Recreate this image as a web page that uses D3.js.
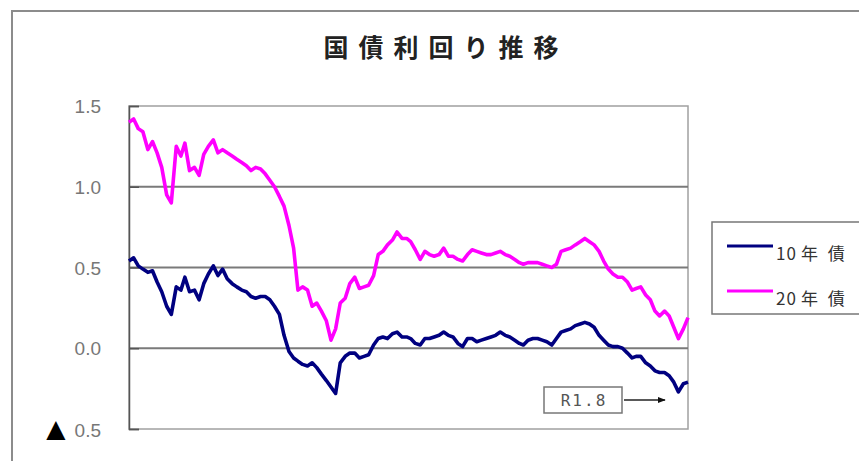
<!DOCTYPE html>
<html><head><meta charset="utf-8">
<script src="https://cdn.jsdelivr.net/npm/d3@7"></script>
<style>
html,body{margin:0;padding:0;background:#fff;}
svg{display:block;}
</style></head>
<body>
<svg id="c" width="859" height="461"></svg>
<script>
// ---- data ----
const title = "国債利回り推移";
const seriesNames = ["10年債", "20年債"];
const yTicks = [-0.5, 0.0, 0.5, 1.0, 1.5];
const yTickLabels = ["▲ 0.5", "0.0", "0.5", "1.0", "1.5"];
const annotation = "R1.8";
// semi-monthly observations, Sep 2014 - Aug 2019
const startMonth = "2014-09";
const yield10 = [0.54,0.56,0.51,0.49,0.47,0.48,0.41,0.35,0.26,0.21,
  0.38,0.36,0.44,0.35,0.36,0.30,0.40,0.46,0.51,0.45,
  0.49,0.43,0.40,0.38,0.36,0.35,0.32,0.31,0.32,0.32,
  0.30,0.26,0.21,0.08,-0.02,-0.06,-0.08,-0.10,-0.11,-0.09,
  -0.12,-0.16,-0.20,-0.24,-0.28,-0.09,-0.05,-0.03,-0.03,-0.06,
  -0.05,-0.04,0.02,0.06,0.07,0.06,0.09,0.10,0.07,0.07,
  0.06,0.03,0.02,0.06,0.06,0.07,0.08,0.10,0.08,0.07,
  0.03,0.01,0.06,0.06,0.04,0.05,0.06,0.07,0.08,0.10,
  0.08,0.07,0.05,0.03,0.02,0.05,0.06,0.06,0.05,0.04,
  0.02,0.06,0.10,0.11,0.12,0.14,0.15,0.16,0.15,0.13,
  0.08,0.05,0.02,0.01,0.01,0.00,-0.03,-0.06,-0.05,-0.05,
  -0.09,-0.11,-0.14,-0.15,-0.15,-0.17,-0.21,-0.27,-0.22,-0.21];
const yield20 = [1.40,1.42,1.36,1.34,1.23,1.28,1.21,1.12,0.95,0.90,
  1.25,1.19,1.27,1.10,1.12,1.07,1.20,1.25,1.29,1.21,
  1.23,1.21,1.19,1.17,1.15,1.13,1.10,1.12,1.11,1.08,
  1.04,1.00,0.94,0.88,0.76,0.62,0.36,0.38,0.36,0.26,
  0.28,0.23,0.17,0.05,0.12,0.28,0.31,0.40,0.44,0.37,
  0.38,0.39,0.45,0.58,0.60,0.64,0.67,0.72,0.68,0.68,
  0.66,0.61,0.55,0.60,0.58,0.57,0.58,0.62,0.57,0.57,
  0.55,0.54,0.58,0.61,0.60,0.59,0.58,0.58,0.59,0.60,
  0.58,0.57,0.55,0.53,0.52,0.53,0.53,0.53,0.52,0.51,
  0.50,0.52,0.60,0.61,0.62,0.64,0.66,0.68,0.66,0.64,
  0.60,0.54,0.49,0.46,0.44,0.44,0.41,0.36,0.37,0.38,
  0.33,0.30,0.23,0.20,0.23,0.20,0.13,0.06,0.12,0.19];
const colors = ["#000080", "#ff00ff"];

// ---- build dates ----
const [sy, sm] = startMonth.split("-").map(Number);
const dates = yield10.map((_, i) => new Date(sy, sm - 1 + Math.floor(i / 2), i % 2 ? 16 : 1));

const svg = d3.select("#c");
const plot = {x0: 129, x1: 688, y0: 106, y1: 429};

const x = d3.scaleTime().domain(d3.extent(dates)).range([plot.x0, plot.x1]);
const y = d3.scaleLinear().domain([-0.5, 1.5]).range([plot.y1, plot.y0]);

// outer frame
svg.append("path").attr("d", "M12,470 L12,11 L870,11")
  .attr("fill", "none").attr("stroke", "#8c8c8c").attr("stroke-width", 2);

// title
svg.append("text").attr("x", 446).attr("y", 57).attr("text-anchor", "middle")
  .attr("font-family", "'Noto Sans CJK JP', sans-serif").attr("font-weight", "bold")
  .attr("font-size", 25).attr("letter-spacing", 10).attr("fill", "#222").text(title);

// plot border (top/right/bottom)
svg.append("rect").attr("x", plot.x0).attr("y", plot.y0)
  .attr("width", plot.x1 - plot.x0).attr("height", plot.y1 - plot.y0)
  .attr("fill", "none").attr("stroke", "#a0a0a0").attr("stroke-width", 1.5);

// gridlines
svg.append("g").selectAll("line").data(yTicks.filter(v => v > -0.5 && v < 1.5)).join("line")
  .attr("x1", plot.x0).attr("x2", plot.x1)
  .attr("y1", d => y(d)).attr("y2", d => y(d))
  .attr("stroke", "#7a7a7a").attr("stroke-width", 2);

// y axis
const yAxis = d3.axisLeft(y).tickValues(yTicks).tickSize(-10).tickPadding(28)
  .tickFormat((d, i) => yTickLabels[i]);
const ga = svg.append("g").attr("transform", `translate(${plot.x0},0)`).call(yAxis);
ga.select(".domain").attr("stroke", "#555").attr("stroke-width", 1.5);
ga.selectAll(".tick line").attr("stroke", "#555").attr("stroke-width", 1.5);
ga.selectAll(".tick text").attr("font-family", "'Liberation Sans', Arial, sans-serif")
  .attr("font-size", 19).attr("fill", "#777").attr("dy", "0.35em");
ga.selectAll(".tick text").filter((d) => d < 0).each(function(d, i) {
  const t = d3.select(this); const parts = yTickLabels[0].split(" ");
  t.text(null).attr("dy", null);
  t.append("tspan").attr("fill", "#000").attr("font-family", "'DejaVu Sans', sans-serif")
    .attr("font-size", 25).attr("dy", 7).text(parts[0]);
  t.append("tspan").attr("dx", 9).text(parts[1]);
});

// lines
const line = d3.line().x((d, i) => x(dates[i])).y(d => y(d));
[yield10, yield20].forEach((s, k) => {
  svg.append("path").datum(s).attr("d", line).attr("fill", "none")
    .attr("stroke", colors[k]).attr("stroke-width", 3.6).attr("stroke-linejoin", "round");
});

// legend
const lg = svg.append("g");
lg.append("rect").attr("x", 712).attr("y", 222).attr("width", 150).attr("height", 92)
  .attr("fill", "#fff").attr("stroke", "#777").attr("stroke-width", 1.5);
seriesNames.forEach((n, k) => {
  const cy = 246 + k * 45;
  lg.append("line").attr("x1", 727).attr("x2", 773).attr("y1", cy).attr("y2", cy)
    .attr("stroke", colors[k]).attr("stroke-width", 3);
  const t = lg.append("text").attr("x", 776).attr("y", cy + 14)
    .attr("font-family", "'Noto Sans CJK JP', sans-serif").attr("font-size", 17)
    .attr("fill", "#333");
  t.append("tspan").attr("letter-spacing", 1).text(n.slice(0, 2));
  t.append("tspan").attr("dx", 4).attr("letter-spacing", 10).text(n.slice(2));
});

// annotation
const ax = x(dates[dates.length - 1]);
svg.append("rect").attr("x", 544).attr("y", 387).attr("width", 78).attr("height", 26)
  .attr("fill", "#fff").attr("stroke", "#777").attr("stroke-width", 1.5);
svg.append("text").attr("x", 584).attr("y", 406).attr("text-anchor", "middle")
  .attr("font-family", "'DejaVu Sans Mono', monospace").attr("font-size", 16)
  .attr("letter-spacing", 2).attr("fill", "#555").text(annotation);
svg.append("defs").append("marker").attr("id", "ah").attr("viewBox", "0 0 10 10")
  .attr("refX", 9).attr("refY", 5).attr("markerWidth", 8).attr("markerHeight", 8)
  .attr("markerUnits", "userSpaceOnUse").attr("orient", "auto")
  .append("path").attr("d", "M0,1 L10,5 L0,9 Z").attr("fill", "#111");
svg.append("line").attr("x1", 624).attr("x2", ax - 23).attr("y1", 400).attr("y2", 400)
  .attr("stroke", "#222").attr("stroke-width", 1.5).attr("marker-end", "url(#ah)");
</script>
</body></html>
